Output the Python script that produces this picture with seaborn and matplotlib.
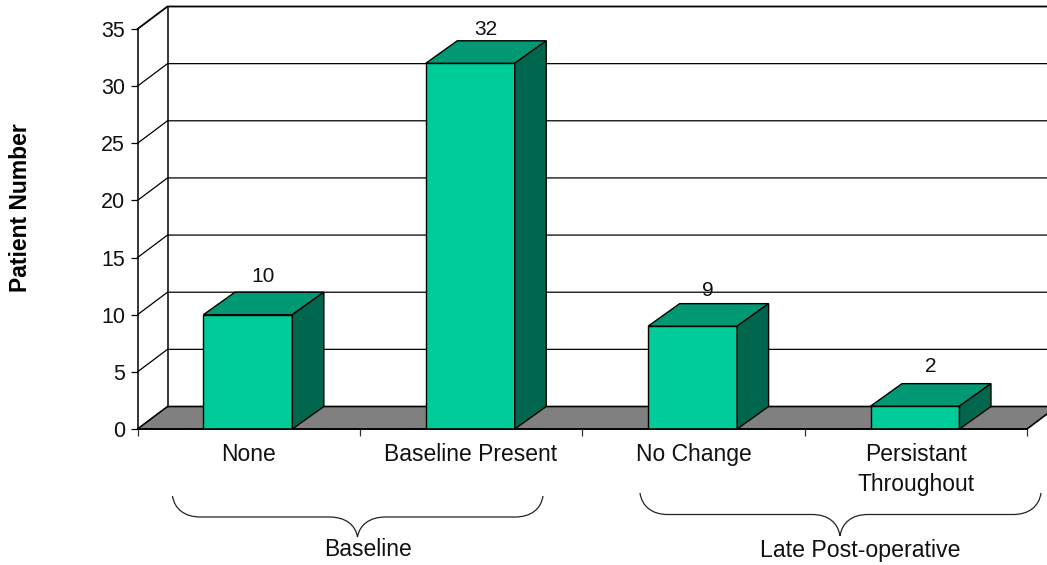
import matplotlib
matplotlib.use("Agg")
import matplotlib.pyplot as plt
from matplotlib.patches import PathPatch, Polygon
from matplotlib.path import Path
from matplotlib.transforms import Affine2D
import pandas as pd
import seaborn as sns

categories = ["None", "Baseline Present", "No Change", "Persistant\nThroughout"]
patients = [10, 32, 9, 2]
y_ticks = [0, 5, 10, 15, 20, 25, 30, 35]
group_names = ["Baseline", "Late Post-operative"]
y_title = "Patient Number"

W, H = 1047, 565
LEFT, RIGHT, BASE, TOP = 137.5, 1027.0, 429.0, 29.0
DEPTH_X, DEPTH_Y = 30.0, 22.5      # pixels of the back wall offset
BAR_DX, BAR_DY = 31.5, 22.5
FRONT, TOPC, SIDE, FLOOR = "#00CC99", "#009973", "#00664D", "#808080"
LABEL_GAPS = [6, 2, 4, 8]          # pixels between bar back and label

sns.set_theme(style="white")
plt.rcParams["font.family"] = ["Liberation Sans", "DejaVu Sans"]

fig = plt.figure(figsize=(W / 100, H / 100), dpi=100, facecolor="white")
ax = fig.add_axes([LEFT / W, (H - BASE) / H, (RIGHT - LEFT) / W, (BASE - TOP) / H])
ax.patch.set_alpha(0)

df = pd.DataFrame({"category": categories, "patients": patients})
sns.barplot(data=df, x="category", y="patients", color=FRONT, saturation=1,
            width=0.4, edgecolor="black", linewidth=1.0, ax=ax, zorder=5)
ax.set_xlim(-0.5, 3.5)
ax.set_ylim(0, 35)

px_x = (3.5 + 0.5) / (RIGHT - LEFT)
px_y = 35 / (BASE - TOP)
dx, dy = DEPTH_X * px_x, DEPTH_Y * px_y
bdx, bdy = BAR_DX * px_x, BAR_DY * px_y
x0, x1 = ax.get_xlim()
lw = 0.9

# floor
ax.add_patch(Polygon([(x0, 0), (x1, 0), (x1 + dx, dy), (x0 + dx, dy)], closed=True,
                     facecolor=FLOOR, edgecolor="black", linewidth=1.2,
                     clip_on=False, zorder=1))
# back wall grid and side wall diagonals
for t in y_ticks:
    if t > 0:
        ax.plot([x0, x0 + dx, x1 + dx], [t, t + dy, t + dy], color="black",
                lw=1.3 if t == 35 else lw, clip_on=False, zorder=2,
                solid_joinstyle="miter")
ax.plot([x0 + dx, x0 + dx], [dy, 35 + dy], color="black", lw=1.1, clip_on=False, zorder=2)

# bar depth faces, taken from the bars seaborn drew
for bar, value, gap in zip(ax.patches, patients, LABEL_GAPS):
    bar.set_x(bar.get_x() - 0.8 * px_x)
    bx0, bx1 = bar.get_x(), bar.get_x() + bar.get_width()
    h = bar.get_height()
    ax.add_patch(Polygon([(bx0, h), (bx1, h), (bx1 + bdx, h + bdy), (bx0 + bdx, h + bdy)],
                         closed=True, facecolor=TOPC, edgecolor="black", linewidth=1.0,
                         clip_on=False, zorder=6, joinstyle="miter"))
    ax.add_patch(Polygon([(bx1, 0), (bx1 + bdx, bdy), (bx1 + bdx, h + bdy), (bx1, h)],
                         closed=True, facecolor=SIDE, edgecolor="black", linewidth=1.0,
                         clip_on=False, zorder=6, joinstyle="miter"))
    ax.annotate(str(value), xy=((bx0 + bx1) / 2 + bdx / 2 - 0.002, h + bdy),
                xytext=(0, gap * 0.72), textcoords="offset points", ha="center", va="bottom",
                fontsize=15, color="#111111", zorder=7, annotation_clip=False)

# axes
sns.despine(ax=ax, top=True, right=True)
for s in ("left", "bottom"):
    ax.spines[s].set_color("black")
    ax.spines[s].set_linewidth(1.1)
    ax.spines[s].set_zorder(8)
ax.set_yticks(y_ticks)
ax.set_xticks([-0.5, 0.5, 1.5, 2.5, 3.5])
ax.set_xticklabels([])
ax.set_xticks([0, 1, 2, 3], labels=categories, minor=True)
ax.tick_params(axis="x", which="major", length=5, width=0.9, color="#333333", bottom=True)
ax.tick_params(axis="x", which="minor", length=0, pad=10, labelsize=16.5, labelcolor="#111111", bottom=True)
ax.tick_params(axis="y", length=5, width=0.9, color="black", left=True, pad=4,
               labelsize=15.5, labelcolor="#111111")
ax.set_xlabel("")
ax.set_ylabel("")
for lab in ax.get_xticklabels(minor=True):
    lab.set_linespacing(1.4)

# pixel space for the annotations outside the axes
pixel = Affine2D().scale(1 / W, -1 / H).translate(0, 1) + fig.transFigure


def brace(xl, xr, xtip, ytop, yline, ytip):
    verts = [(xl, ytop), (xl + 2, yline - 8), (xl + 12, yline), (xl + 28, yline),
             (xtip - 28, yline), (xtip - 12, yline), (xtip - 2, yline + 8), (xtip, ytip),
             (xtip + 2, yline + 8), (xtip + 12, yline), (xtip + 28, yline),
             (xr - 28, yline), (xr - 12, yline), (xr - 2, yline - 8), (xr, ytop)]
    codes = [Path.MOVETO, Path.CURVE4, Path.CURVE4, Path.CURVE4, Path.LINETO,
             Path.CURVE4, Path.CURVE4, Path.CURVE4, Path.CURVE4, Path.CURVE4, Path.CURVE4,
             Path.LINETO, Path.CURVE4, Path.CURVE4, Path.CURVE4]
    fig.add_artist(PathPatch(Path(verts, codes), facecolor="none", edgecolor="#222222",
                             linewidth=0.9, transform=pixel))


brace(172.5, 543, 357.5, 496, 517, 537)
brace(640, 1041, 840, 493, 514.5, 536)

fig.text(368 / W, 1 - 550 / H, group_names[0], ha="center", va="center",
         fontsize=16.5, color="#111111")
fig.text(860.5 / W, 1 - 550 / H, group_names[1], ha="center", va="center",
         fontsize=16.7, color="#111111")
fig.text(21 / W, 1 - 207.5 / H, y_title, rotation=90, ha="center", va="center",
         fontsize=16.5, fontweight="bold", color="black")

fig.savefig("out.png", dpi=100, facecolor="white")
